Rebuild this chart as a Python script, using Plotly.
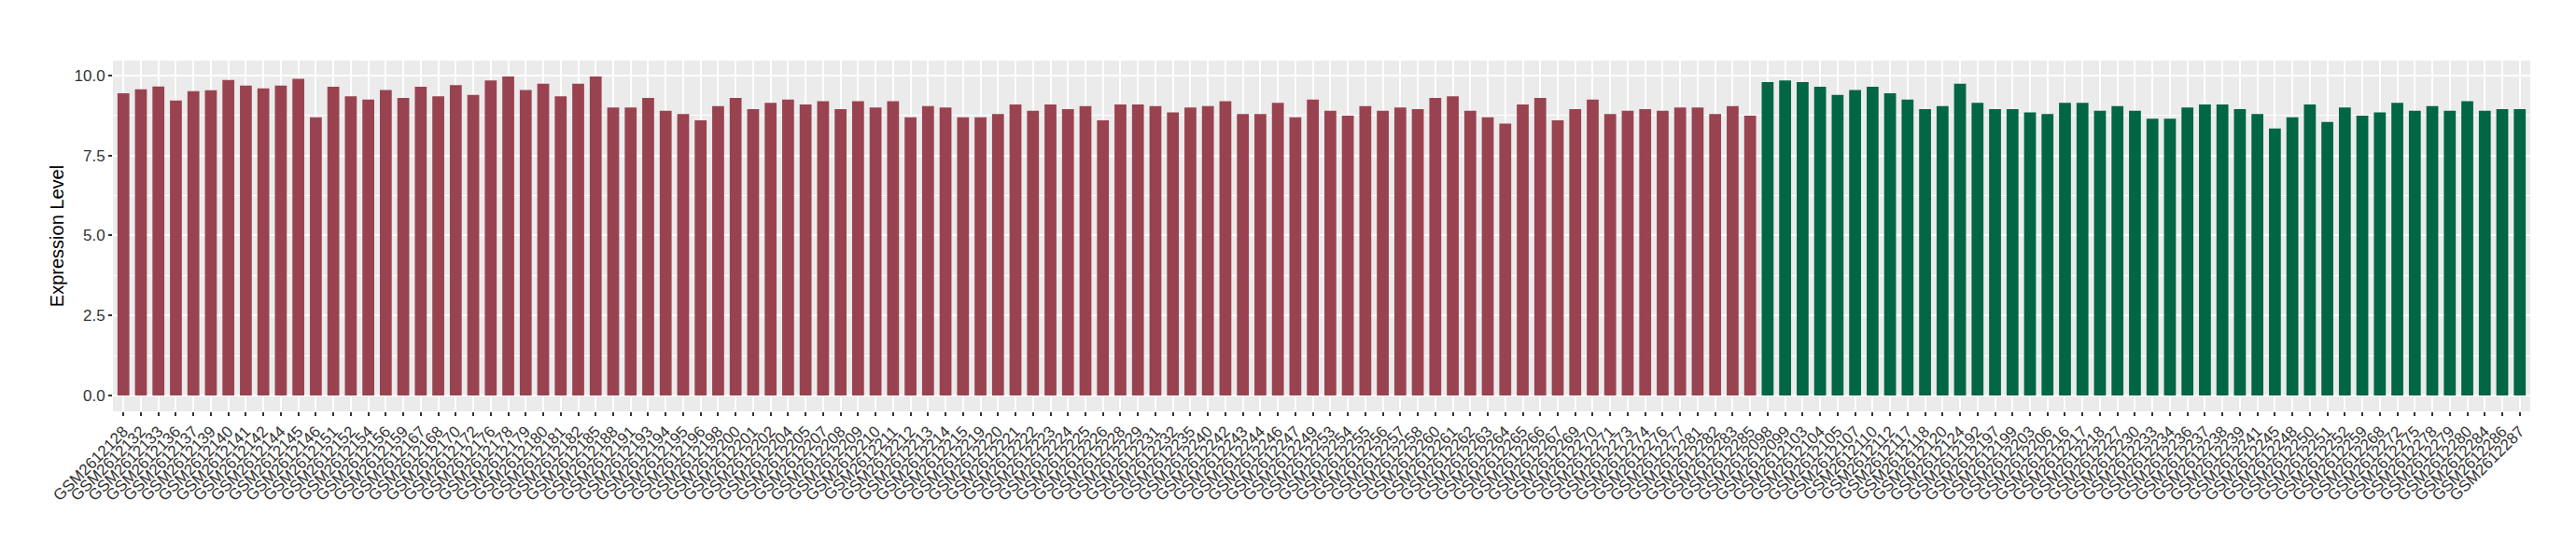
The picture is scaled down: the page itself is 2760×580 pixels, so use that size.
import plotly.graph_objects as go

group1_ids = [2128, 2132, 2133, 2136, 2137, 2139, 2140, 2141, 2142, 2144, 2145,
              2146, 2151, 2152, 2154, 2156, 2159, 2167, 2168, 2170, 2172, 2176, 2178, 2179,
              2180, 2181, 2182, 2185, 2188, 2191, 2193, 2194, 2195, 2196, 2198, 2200, 2201,
              2202, 2204, 2205, 2207, 2208, 2209, 2210, 2211, 2212, 2213, 2214, 2215,
              2219, 2220, 2221, 2222, 2223, 2224, 2225, 2226, 2228, 2229, 2231, 2232, 2235,
              2240, 2242, 2243, 2244, 2246, 2247, 2249, 2253, 2254, 2255, 2256, 2257, 2258,
              2260, 2261, 2262, 2263, 2264, 2265, 2266, 2267, 2269, 2270, 2271, 2273, 2274,
              2276, 2277, 2281, 2282, 2283, 2285]
group1_values = [9.45, 9.57, 9.66, 9.22, 9.51, 9.54, 9.86, 9.69, 9.60, 9.69, 9.90,
                 8.70, 9.65, 9.35, 9.25, 9.55, 9.30, 9.65, 9.35, 9.70, 9.40, 9.85, 9.97,
                 9.55, 9.75, 9.35, 9.75, 9.97, 9.00, 9.00, 9.30, 8.90, 8.80, 8.60, 9.05,
                 9.30, 8.95, 9.15, 9.25, 9.10, 9.20, 8.95, 9.20, 9.00, 9.20, 8.70, 9.05,
                 9.00, 8.70, 8.70, 8.80, 9.10, 8.90, 9.10, 8.95, 9.05, 8.60, 9.10, 9.10,
                 9.05, 8.85, 9.00, 9.05, 9.20, 8.80, 8.80, 9.15, 8.70, 9.25, 8.90, 8.75,
                 9.05, 8.90, 9.00, 8.95, 9.30, 9.35, 8.90, 8.70, 8.50, 9.10, 9.30, 8.60,
                 8.95, 9.25, 8.80, 8.90, 8.95, 8.90, 9.00, 9.00, 8.80, 9.05, 8.75]

group2_ids = [2098, 2099, 2103, 2104, 2105, 2107, 2110,
              2112, 2117, 2118, 2120, 2124, 2192, 2197, 2199, 2203, 2206, 2216, 2217,
              2218, 2227, 2230, 2233, 2234, 2236, 2237, 2238, 2239, 2241, 2245, 2248, 2250,
              2251, 2252, 2259, 2268, 2272, 2275, 2278, 2279, 2280, 2284, 2286, 2287]
group2_values = [9.80, 9.85, 9.80, 9.65, 9.40, 9.55, 9.65,
                 9.45, 9.25, 8.95, 9.05, 9.75, 9.15, 8.95, 8.95, 8.85, 8.80, 9.15, 9.15,
                 8.90, 9.05, 8.90, 8.65, 8.65, 9.00, 9.10, 9.10, 8.95, 8.80, 8.35, 8.70, 9.10,
                 8.55, 9.00, 8.75, 8.85, 9.15, 8.90, 9.05, 8.90, 9.20, 8.90, 8.95, 8.95]

group1_labels = ["GSM261%d" % i for i in group1_ids]
group2_labels = ["GSM261%d" % i for i in group2_ids]
all_labels = group1_labels + group2_labels

RED = "#9A4350"
GREEN = "#006644"

fig = go.Figure()
fig.add_trace(go.Bar(x=group1_labels, y=group1_values, marker_color=RED,
                     marker_line_width=0, width=0.68, showlegend=False))
fig.add_trace(go.Bar(x=group2_labels, y=group2_values, marker_color=GREEN,
                     marker_line_width=0, width=0.68, showlegend=False))

n = len(all_labels)
fig.update_layout(
    width=2760, height=580,
    margin=dict(l=113, r=57, t=57, b=147),
    paper_bgcolor="white",
    plot_bgcolor="#EBEBEB",
    font=dict(family="Liberation Sans, Arial, sans-serif", size=17, color="#4D4D4D"),
)
fig.update_xaxes(
    type="category", categoryorder="array", categoryarray=all_labels,
    tickmode="array", tickvals=all_labels, ticktext=all_labels,
    range=[-0.6, n - 1 + 0.6],
    tickangle=-45, tickfont=dict(size=17, color="#333333"),
    showgrid=True, gridcolor="white", gridwidth=2,
    ticks="outside", ticklen=4, tickcolor="#333333", tickwidth=1.5,
    showline=False, zeroline=False,
)
fig.update_yaxes(
    range=[-0.4985, 10.4685],
    tickvals=[0, 2.5, 5, 7.5, 10], ticktext=["0.0", "2.5", "5.0", "7.5", "10.0"],
    tickfont=dict(size=17, color="#333333"),
    showgrid=True, gridcolor="white", gridwidth=2,
    minor=dict(tickvals=[1.25, 3.75, 6.25, 8.75], showgrid=True, gridcolor="white", gridwidth=1),
    ticks="outside", ticklen=4, tickcolor="#333333", tickwidth=1.5,
    zeroline=False, showline=False,
    title=dict(text="Expression Level", font=dict(size=20, color="black"), standoff=5),
)

fig.write_html("out.html")
